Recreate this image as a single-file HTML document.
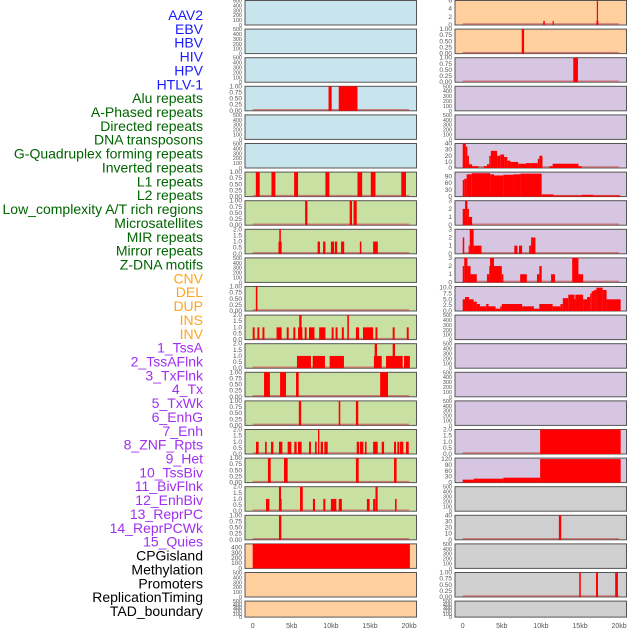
<!DOCTYPE html>
<html><head><meta charset="utf-8"><style>
body{margin:0;background:#fff;width:630px;height:630px;overflow:hidden}
svg{display:block;font-family:"Liberation Sans",sans-serif}
</style></head><body>
<svg id="chart" width="630" height="630" viewBox="0 0 630 630" xmlns="http://www.w3.org/2000/svg"></svg>
<script>
const labels=["AAV2","EBV","HBV","HIV","HPV","HTLV-1","Alu repeats","A-Phased repeats","Directed repeats","DNA transposons","G-Quadruplex forming repeats","Inverted repeats","L1 repeats","L2 repeats","Low_complexity A/T rich regions","Microsatellites","MIR repeats","Mirror repeats","Z-DNA motifs","CNV","DEL","DUP","INS","INV","1_TssA","2_TssAFlnk","3_TxFlnk","4_Tx","5_TxWk","6_EnhG","7_Enh","8_ZNF_Rpts","9_Het","10_TssBiv","11_BivFlnk","12_EnhBiv","13_ReprPC","14_ReprPCWk","15_Quies","CPGisland","Methylation","Promoters","ReplicationTiming","TAD_boundary"];
const labelGroups=[6,13,5,15,5];
const groupColors=["#1a1aff","#006400","#ffa51f","#a030f0","#000000"];
const xTicks=[0,5,10,15,20];
const xTickLabels=["0","5kb","10kb","15kb","20kb"];
// left column tracks
const leftBg=["b","b","b","b","b","b","g","g","g","g","g","g","g","g","g","g","g","g","g","o","o","o"];
const leftMax=[500,500,500,1,500,500,1,1,2,500,1,2,2,1,1,2,1,2,1,470,500,500];
const L3=[[9.7,10.1,1],[11.0,13.4,1]];
const L6=[[0.4,0.9,1],[2.4,2.9,1],[5.3,5.8,1],[9.3,9.8,1],[13.4,14.0,1],[15.1,15.7,1],[19.0,19.6,1]];
const L7=[[6.7,7.0,1],[12.4,12.7,1],[12.9,13.3,1]];
const L8=[[3.3,3.7,1],[3.4,3.6,2],[8.3,8.6,1],[9.0,9.3,1],[10.0,10.4,1],[10.5,10.8,1],[11.3,11.7,1],[13.7,13.9,1],[15.4,16.0,1]];
const L10=[[0.4,0.6,1]];
const L11=[[0.0,0.25,1],[0.6,0.85,1],[1.25,1.5,1],[3.05,3.7,1],[4.35,4.6,1],[5.2,5.45,1],[5.8,6.35,1],[5.95,6.25,2],[6.65,6.9,1],[7.2,7.9,1],[8.5,9.3,1],[10.1,10.35,1],[10.6,10.85,1],[11.4,11.65,1],[12.1,12.3,2],[13.2,13.6,1],[14.1,15.4,1],[15.7,15.95,1],[17.9,18.15,1],[19.7,19.95,1]];
const L12=[[5.66,7.45,1],[7.67,9.24,1],[9.84,11.67,1],[15.5,16.5,1],[15.6,15.9,2],[17.05,19.18,1],[17.9,18.2,2],[19.35,20.1,1]];
const L13=[[1.45,2.2,1],[3.5,4.26,1],[5.54,5.88,1],[16.3,17.3,1]];
const L14=[[5.9,6.2,1],[11.0,11.2,1],[13.2,13.5,1]];
const L15=[[0.42,0.76,1],[1.58,1.79,1],[2.34,2.64,1],[3.36,3.79,1],[4.47,4.94,1],[5.32,5.62,1],[5.79,6.26,1],[7.2,7.45,1],[7.97,8.18,1],[8.35,8.52,2],[8.69,8.99,1],[9.16,9.59,1],[13.3,13.6,1],[13.7,14.15,1],[14.35,14.56,1],[15.4,15.98,1],[16.5,16.8,1],[18.07,18.33,1],[18.5,18.75,1],[18.84,19.26,1],[19.6,19.95,1]];
const L16=[[1.95,2.3,1],[4.0,4.47,1],[13.2,13.55,1],[18.07,18.4,1]];
const L17=[[1.7,2.13,1],[3.36,3.7,1],[3.36,3.62,2],[6.05,6.4,2],[7.7,7.97,1],[9.03,9.29,1],[10.0,10.7,1],[11.0,11.4,1],[14.6,14.95,1],[15.4,15.67,1],[15.7,15.98,2],[18.2,18.4,1]];
const L18=[[3.36,3.66,1]];
const L19=[[0,20.1,470]];
const leftBars=[[],[],[],L3,[],[],L6,L7,L8,[],L10,L11,L12,L13,L14,L15,L16,L17,L18,L19,[],[]];
// right column tracks
const rightBg=["o","o","p","p","p","p","p","p","p","p","p","p","p","p","p","p","p","x","x","x","x","x"];
const rightMax=[6,1,1,500,500,40,110,3,3,3,10.5,500,500,500,500,2,125,500,40,500,1,500];
const R0=[[10.3,10.5,1],[11.5,11.6,1],[17.1,17.35,1],[17.15,17.3,6]];
const R1=[[7.55,7.85,1]];
const R2=[[14.14,14.74,1]];
const R5=[[0,0.4,40],[0.4,0.6,35],[0.6,0.8,20],[0.8,1.2,6],[1.2,2.0,3],[2.7,3.1,3],[3.1,3.4,6],[3.4,3.6,20],[3.6,4.4,28],[4.4,4.8,20],[4.8,5.3,22],[5.3,5.7,18],[5.7,6.1,12],[6.1,7.1,10],[7.1,8.1,7],[8.1,8.7,8],[8.7,9.6,8],[9.6,9.8,15],[9.8,10.2,20],[11.1,11.5,3],[11.5,14.8,7],[14.8,15.2,3]];
const R6=[[0,0.2,75],[0.2,0.5,80],[0.5,1.15,100],[1.15,3.5,105],[3.5,4.0,100],[4.0,5.2,95],[5.2,6.5,98],[6.5,7.4,100],[7.4,10.1,103],[10.1,11.6,10],[11.6,15.25,5],[15.25,16.7,8],[16.7,20.2,5]];
const R7=[[0,0.3,2],[0.3,0.6,3],[0.6,0.8,2],[0.8,1.2,1]];
const R8=[[0,0.2,2],[0.75,0.9,1],[0.9,1.4,3],[1.4,2.4,1],[6.6,7.0,1],[7.2,7.6,1],[8.5,8.75,1],[8.75,9.3,2]];
const R9=[[0,0.2,2],[0.2,0.6,3],[0.6,1.0,2],[1.0,1.8,1],[3.1,3.4,1],[3.4,3.5,2],[3.5,4.0,3],[4.0,5.0,2],[5.0,5.2,1],[7.35,8.2,1],[9.5,9.8,1],[9.8,10.1,2],[11.3,11.8,1],[14.0,14.8,3],[14.8,15.4,1]];
const R10=[[0,0.3,5],[0.3,0.8,6],[0.8,1.4,5],[1.4,1.8,4],[1.8,2.2,3],[2.2,3.0,2],[3.0,3.3,3],[3.3,4.2,2],[4.2,4.8,1],[4.8,5.0,2],[5.0,7.6,3],[7.6,9.1,2],[9.1,9.8,1],[9.8,11.5,3],[11.5,12.5,2],[12.5,12.8,3],[12.8,13.5,5.5],[13.5,14.3,7],[14.3,14.4,5],[14.4,15.4,7],[15.4,15.9,5],[15.9,16.3,6],[16.3,16.5,7.5],[16.5,16.8,8.5],[16.8,17.1,9],[17.1,17.9,10],[17.9,18.4,9],[18.4,20.2,5]];
const R15=[[9.9,20.2,2]];
const R16=[[0,1.4,15],[1.4,5.2,20],[5.2,9.9,25],[9.9,20.2,120]];
const R18=[[12.3,12.6,40]];
const R20=[[14.9,15.1,1],[17.05,17.3,1],[19.5,19.85,1]];
const rightBars=[R0,R1,R2,[],[],R5,R6,R7,R8,R9,R10,[],[],[],[],R15,R16,[],R18,[],R20,[]];

const NS="http://www.w3.org/2000/svg";
const svg=document.getElementById('chart');
const bgColors={b:"#c8e4ec",g:"#c8e0a2",o:"#ffd09e",p:"#d6c6e2",x:"#cfcfcf"};
function mk(t,a){const e=document.createElementNS(NS,t);for(const k in a)e.setAttribute(k,a[k]);svg.appendChild(e);return e;}
function rowTop(i){return i*28.6+0.5;}
function rowH(i){return i===21?16:24.5;}
function ticksFor(m){
  if(m===500)return [0,100,200,300,400,500];
  if(m===470)return [0,100,200,300,400];
  if(m===1)return [0,0.25,0.5,0.75,1];
  if(m===2)return [0,0.5,1,1.5,2];
  if(m===3)return [0,1,2,3];
  if(m===6)return [0,2,4,6];
  if(m===40)return [0,10,20,30,40];
  if(m===110)return [0,30,60,90];
  if(m===125)return [0,30,60,90,120];
  if(m===10.5)return [0,2.5,5,7.5,10];
  return [0,m];
}
function fmt(m,v){
  if(m===1)return v.toFixed(2);
  if(m===2||m===10.5)return v.toFixed(1);
  return String(v);
}
// labels
let li=0;
labelGroups.forEach((n,g)=>{for(let k=0;k<n;k++){
  const t=mk('text',{x:203,y:20+li*13.86,'text-anchor':'end','font-size':'14',fill:groupColors[g]});
  
  
  t.textContent=labels[li];li++;}});
function panel(col,i,bg,max,bars){
  const x0=col===0?245:455, x1=col===0?416.5:626.5;
  const xs=v=>x0+7.7+v*7.82;
  const top=rowTop(i),h=rowH(i);
  const ys=v=>top+h-Math.min(v,max)/max*h;
  const r=mk('rect',{x:x0,y:top,width:x1-x0,height:h,fill:bgColors[bg],stroke:"#555",'stroke-width':1});
  
  
  if(bars.length){
    const bl=mk('line',{x1:xs(0),x2:xs(20),y1:top+h-1,y2:top+h-1,stroke:"#c86464",'stroke-width':1.5,opacity:0.8});
    
    
  }
  bars.forEach(b=>{
    const w=Math.max(1.2,xs(b[1])-xs(b[0]));
    const e=mk('rect',{x:xs(b[0]),y:ys(b[2]),width:w,height:top+h-ys(b[2]),fill:"#ff0000"});
    
    
  });
  const tk=ticksFor(max);
  const fs=tk.length>5||h<20?5.5:6.5;
  tk.forEach(v=>{
    const t=mk('text',{x:x0-3,y:ys(v)+2,'text-anchor':'end','font-size':fs,fill:"#555"});
    
    
    t.textContent=fmt(max,v);
  });
}
for(let i=0;i<22;i++){panel(0,i,leftBg[i],leftMax[i],leftBars[i]);panel(1,i,rightBg[i],rightMax[i],rightBars[i]);}
[245,455].forEach(x0=>{xTicks.forEach((v,k)=>{
  const t=mk('text',{x:x0+7.7+v*7.82,y:628,'text-anchor':'middle','font-size':'7',fill:"#555"});
  
  
  t.textContent=xTickLabels[k];});});
</script>
</body></html>
